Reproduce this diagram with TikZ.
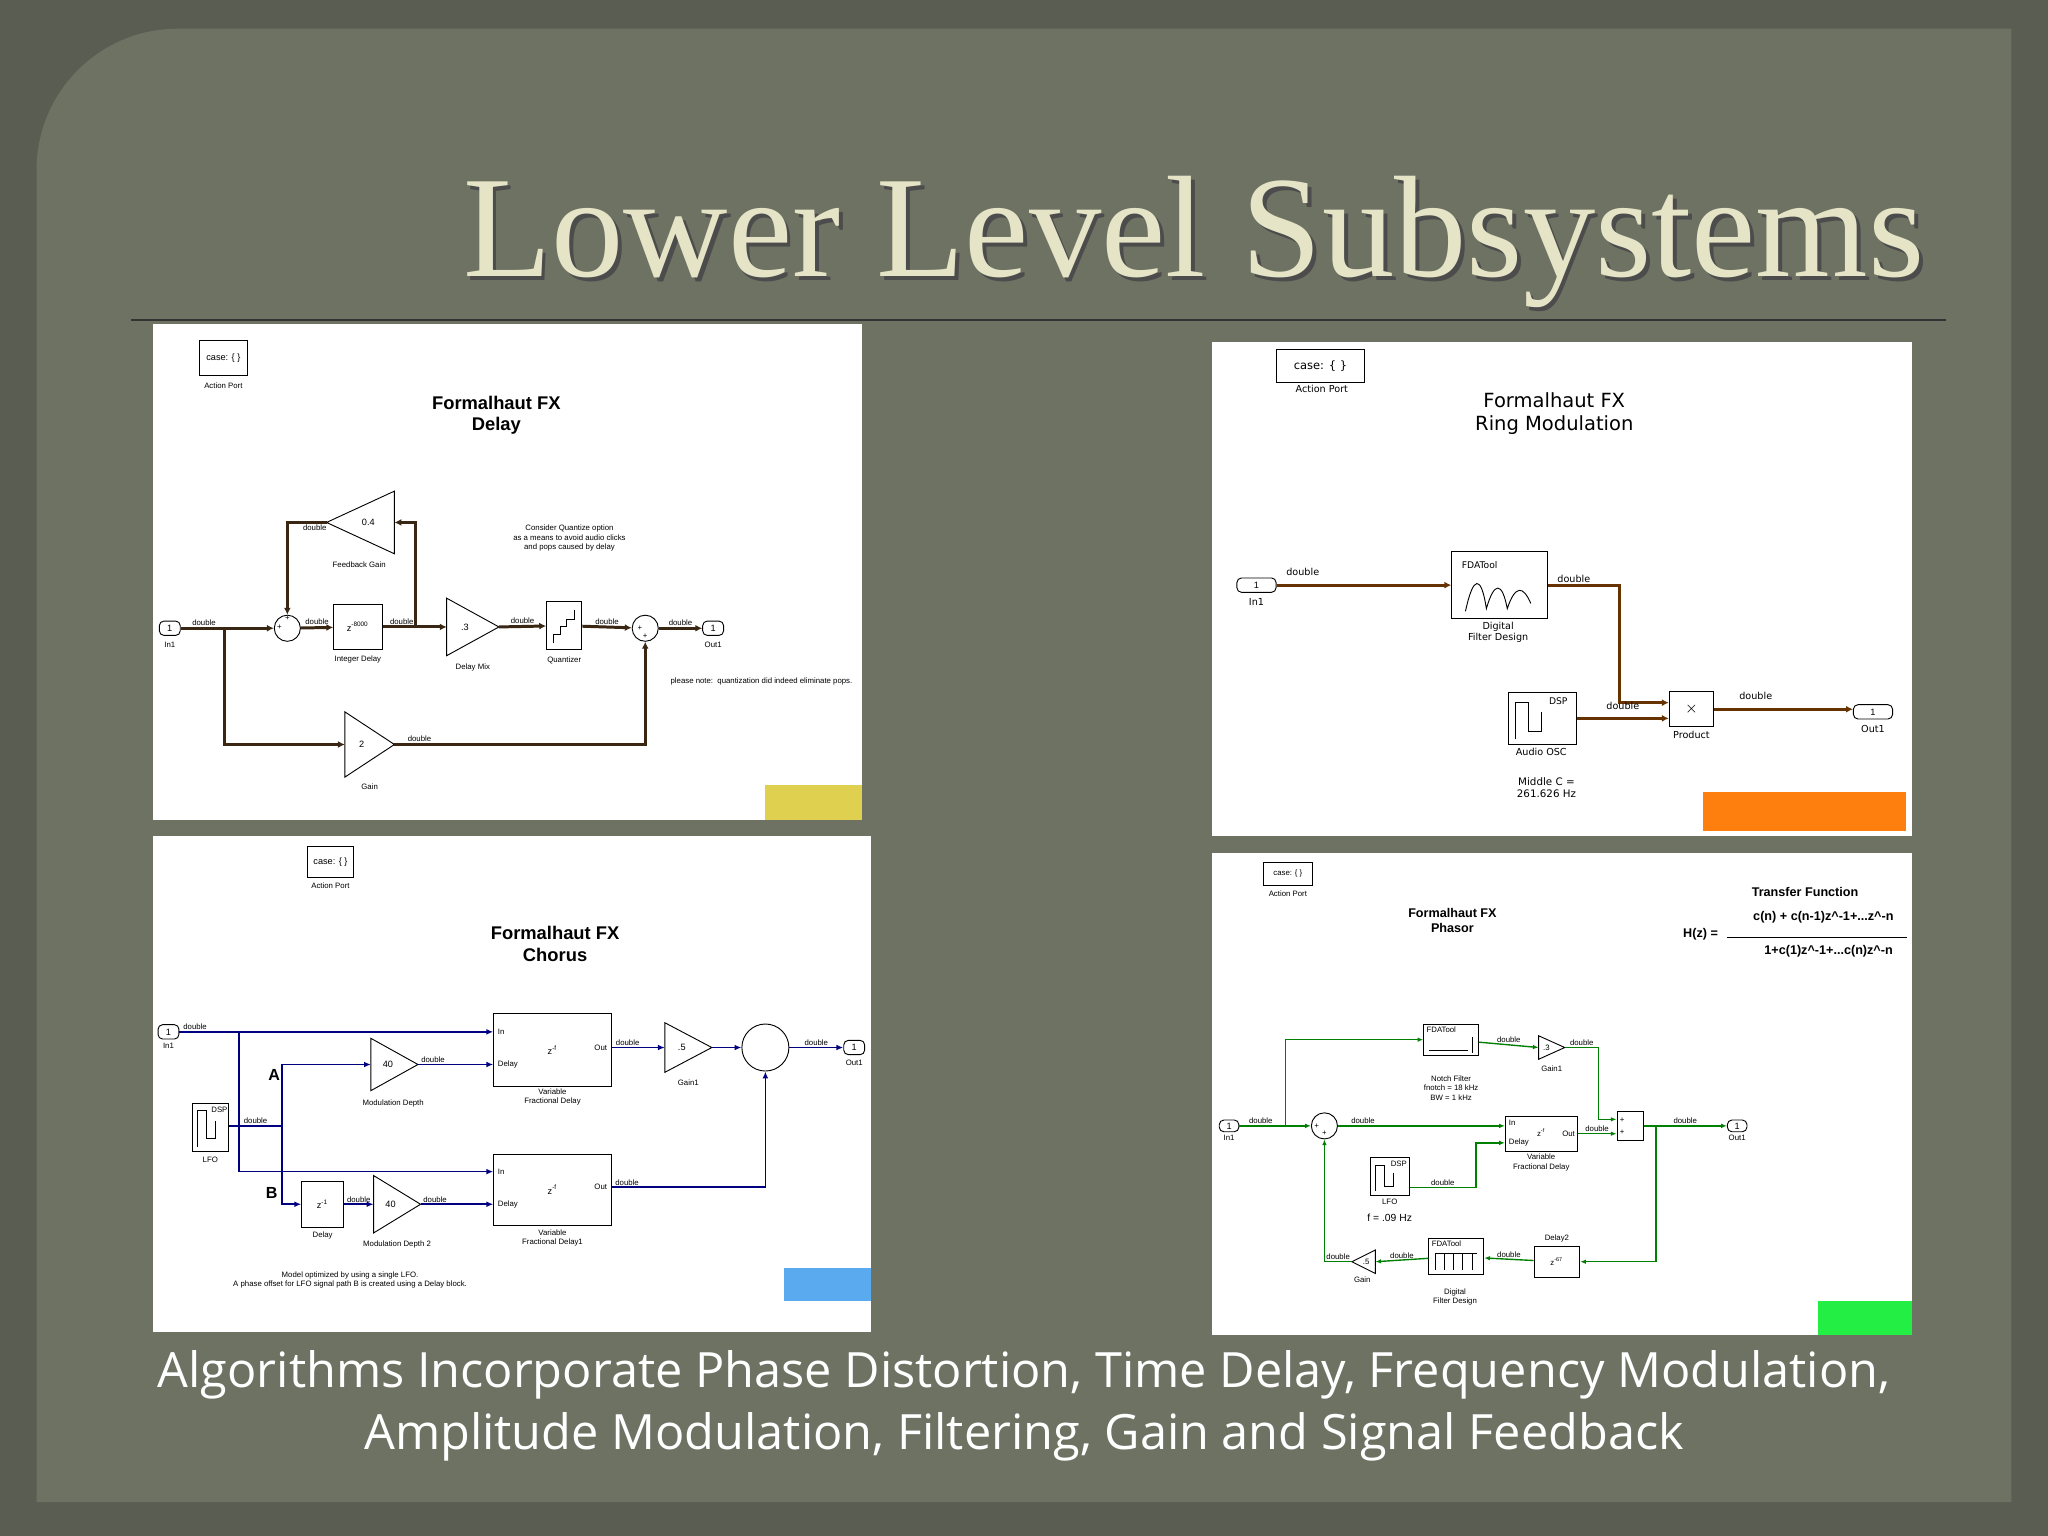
\documentclass[tikz,border=0pt]{standalone}
\usepackage{fontspec}
\setmainfont{Liberation Sans}
\newfontfamily\titlefont{Liberation Serif}
\newfontfamily\bodyfont{Open Sans}
\newfontfamily\vfont{DejaVu Sans}
\usetikzlibrary{arrows.meta}
\definecolor{pageb}{HTML}{5A5E52}
\definecolor{panelb}{HTML}{6E7263}
\definecolor{titlec}{HTML}{E6E4C6}
\definecolor{cyel}{HTML}{E0D050}
\definecolor{cora}{HTML}{FF7F0E}
\definecolor{cblu}{HTML}{5AAAF0}
\definecolor{cgrn}{HTML}{22EE44}
\newcommand{\zx}[1]{z\textsuperscript{#1}}
\tikzset{
 tiny/.style={font=\fontsize{4}{4.6}\selectfont,inner sep=0.5pt,align=center},
 small/.style={font=\fontsize{3.4}{4}\selectfont,inner sep=0.5pt,align=center},
 ptitle/.style={font=\bfseries\fontsize{8}{9.5}\selectfont,align=center},
 blk/.style={draw,fill=white,inner sep=0pt,line width=0.4pt},
 port/.style={draw,fill=white,rounded corners=2pt,minimum width=0.32cm,minimum height=0.22cm,inner sep=0pt,font=\fontsize{4}{4}\selectfont},
 sa/.style={line width=1.3pt,draw=black!70!brown,-{Latex[length=3pt,width=3pt]}},
 sb/.style={line width=1.3pt,draw=black!60!orange,-{Latex[length=3pt,width=3pt]}},
 sc/.style={line width=0.7pt,draw=blue!50!black,-{Latex[length=3pt,width=2.5pt]}},
 sd/.style={line width=0.6pt,draw=green!50!black,-{Latex[length=2.5pt,width=2pt]}},
}
\begin{document}
\begin{tikzpicture}[x=0.02cm,y=-0.02cm]
\useasboundingbox (0,0) rectangle (1568,1176);
\fill[pageb] (0,0) rectangle (1568,1176);
\fill[panelb] (28,1150) -- (28,130) arc[start angle=180,end angle=270,radius=108] -- (1540,22) -- (1540,1150) -- cycle;
% title
\node[font=\titlefont\fontsize{63}{68}\selectfont,text=black!70,anchor=center] at (917,188) {Lower Level Subsystems};
\node[font=\titlefont\fontsize{63}{68}\selectfont,text=titlec,anchor=center] (title) at (914,185) {Lower Level Subsystems};
\draw[black!80,line width=0.8pt] (100,245) -- (1490,245);
% panels
\fill[white] (117,248) rectangle (660,628);
\fill[cyel] (586,601) rectangle (660,628);
\fill[white] (928,262) rectangle (1464,640);
\fill[cora] (1304,606) rectangle (1459,636);
\fill[white] (117,640) rectangle (667,1020);
\fill[cblu] (600,971) rectangle (667,996);
\fill[white] (928,653) rectangle (1464,1022);
\fill[cgrn] (1392,996) rectangle (1464,1022);

%%%%% Panel 1 Delay
\node[blk,minimum width=0.74cm,minimum height=0.54cm,tiny] (c1) at (171,274) {case: \{ \}};
\node[small] at (171,295) {Action Port};
\node[ptitle] at (380,318) {Formalhaut FX\\Delay};
\node[port] (in1) at (130,481) {1};
\node[small] at (130,494) {In1};
\node[blk,circle,minimum size=0.4cm] (s1) at (220,481) {};
\node[small] at (214,480) {+};\node[small] at (220,473) {+};
\node[blk,minimum width=0.74cm,minimum height=0.7cm,tiny] (idel) at (274,480) {\zx{-8000}};
\node[small] at (274,505) {Integer Delay};
\draw[fill=white] (342,458) -- (382,480) -- (342,502) -- cycle;
\coordinate (dmi) at (342,480); \coordinate (dmo) at (382,480);
\node[tiny] at (356,480) {.3};
\node[small] at (362,511) {Delay Mix};
\node[blk,minimum width=0.54cm,minimum height=0.74cm] (q) at (432,479) {};
\draw (424,492) -- (424,486) -- (429,486) -- (429,480) -- (434,480) -- (434,474) -- (440,474) -- (440,467);
\node[small] at (432,506) {Quantizer};
\node[blk,circle,minimum size=0.4cm] (s2) at (494,481) {};
\node[small] at (490,481) {+};\node[small] at (494,487) {+};
\node[port] (out1) at (546,481) {1};
\node[small] at (546,494) {Out1};
\draw[fill=white] (250,400) -- (302,376) -- (302,424) -- cycle;
\coordinate (fbi) at (302,400); \coordinate (fbo) at (250,400);
\node[tiny] at (282,400) {0.4};
\node[small] at (275,432) {Feedback Gain};
\draw[fill=white] (264,545) -- (302,570) -- (264,595) -- cycle;
\coordinate (gi) at (264,570); \coordinate (go) at (302,570);
\node[tiny] at (277,570) {2};
\node[small] at (283,602) {Gain};
\node[small] at (436,412) {Consider Quantize option\\as a means to avoid audio clicks\\and pops caused by delay};
\node[small] at (583,522) {please note:\ \ quantization did indeed eliminate pops.};
\coordinate (b1) at (172,481); \coordinate (b2) at (318,481);
\draw[sa] (in1) -- (s1) node[pos=0.25,above,small]{double};
\draw[sa] (b1) |- (gi);
\draw[sa] (go) -| (s2) node[pos=0.05,above,small]{double};
\draw[sa] (s1) -- (idel) node[midway,above,small]{double};
\draw[sa] (idel) -- (dmi) node[pos=0.3,above,small]{double};
\draw[sa] (b2) |- (fbi);
\draw[sa] (fbo) -| (s1) node[pos=0.15,below,small]{double};
\draw[sa] (dmo) -- (q) node[midway,above,small]{double};
\draw[sa] (q) -- (s2) node[midway,above,small]{double};
\draw[sa] (s2) -- (out1) node[midway,above,small]{double};

%%%%% Panel 2 Ring modulation
\node[blk,minimum width=1.34cm,minimum height=0.5cm,font=\vfont\fontsize{5}{5}\selectfont] (c2) at (1011,280) {case: \{ \}};
\node[font=\vfont\fontsize{4.2}{5}\selectfont] at (1012,298) {Action Port};
\node[font=\vfont\fontsize{8.5}{10}\selectfont,align=center] at (1190,317) {Formalhaut FX\\Ring Modulation};
\node[port,minimum width=0.6cm] (rin) at (962,448) {1};
\node[font=\vfont\fontsize{4.2}{5}\selectfont] at (962,461) {In1};
\node[blk,minimum width=1.46cm,minimum height=1.02cm] (fda) at (1148,448) {};
\node[font=\vfont\fontsize{4}{4}\selectfont,anchor=north west] at (1113,424) {FDATool};
\draw (1122,468) .. controls (1128,440) and (1134,440) .. (1138,466) .. controls (1144,445) and (1150,445) .. (1154,466) .. controls (1160,448) and (1166,448) .. (1172,462);
\node[font=\vfont\fontsize{4.2}{5}\selectfont,align=center] at (1147,484) {Digital\\Filter Design};
\node[blk,minimum width=1.04cm,minimum height=0.8cm] (osc) at (1181,550) {};
\draw (1160,566) -- (1160,538) -- (1170,538) -- (1170,560) -- (1180,560) -- (1180,545);
\node[font=\vfont\fontsize{4}{4}\selectfont] at (1193,537) {DSP};
\node[font=\vfont\fontsize{4.2}{5}\selectfont] at (1180,576) {Audio OSC};
\node[blk,minimum width=0.68cm,minimum height=0.54cm,font=\fontsize{6}{6}\selectfont] (prod) at (1295,543) {$\times$};
\node[font=\vfont\fontsize{4.2}{5}\selectfont] at (1295,563) {Product};
\node[port,minimum width=0.6cm] (rout) at (1434,545) {1};
\node[font=\vfont\fontsize{4.2}{5}\selectfont] at (1434,558) {Out1};
\node[font=\vfont\fontsize{4.5}{5.5}\selectfont,align=center] at (1184,603) {Middle C =\\261.626 Hz};
\draw[sb] (rin) -- (fda) node[pos=0.15,above,font=\vfont\fontsize{4.2}{5}\selectfont]{double};
\draw[sb] (fda.east) -- (1240,448) |- (prod.west|-1,538);
\node[font=\vfont\fontsize{4.2}{5}\selectfont] at (1205,443) {double};
\draw[sb] (osc.east) -- (prod.west|-osc.east) node[midway,above,font=\vfont\fontsize{4.2}{5}\selectfont]{double};
\draw[sb] (prod.east) -- (rout.west|-prod.east) node[pos=0.3,above,font=\vfont\fontsize{4.2}{5}\selectfont]{double};

%%%%% Panel 3 Chorus
\node[blk,minimum width=0.7cm,minimum height=0.48cm,tiny] (c3) at (253,660) {case: \{ \}};
\node[small] at (253,678) {Action Port};
\node[ptitle] at (425,723) {Formalhaut FX\\Chorus};
\node[port] (cin) at (129,790) {1};
\node[small] at (129,801) {In1};
\node[blk,minimum width=0.56cm,minimum height=0.74cm] (lfo) at (161,863) {};
\draw (151,878) -- (151,850) -- (158,850) -- (158,872) -- (165,872) -- (165,858);
\node[small] at (168,850) {DSP};
\node[small] at (161,888) {LFO};
\node[blk,minimum width=1.8cm,minimum height=1.12cm] (vfd) at (423,804) {};
\node[small,anchor=west] at (380,790) {In};\node[small,anchor=west] at (380,815) {Delay};\node[small,anchor=east] at (466,802) {Out};
\node[tiny] at (423,804) {\zx{-f}};
\node[small] at (423,840) {Variable\\Fractional Delay};
\node[blk,minimum width=1.8cm,minimum height=1.08cm] (vfd1) at (423,911) {};
\node[small,anchor=west] at (380,897) {In};\node[small,anchor=west] at (380,922) {Delay};\node[small,anchor=east] at (466,909) {Out};
\node[tiny] at (423,911) {\zx{-f}};
\node[small] at (423,948) {Variable\\Fractional Delay1};
\draw[fill=white] (284,795) -- (320,815) -- (284,835) -- cycle;
\coordinate (mdi) at (284,815); \coordinate (mdo) at (320,815);
\node[tiny] at (297,815) {40};
\node[small] at (301,845) {Modulation Depth};
\draw[fill=white] (286,900) -- (322,922) -- (286,944) -- cycle;
\coordinate (md2i) at (286,922); \coordinate (md2o) at (322,922);
\node[tiny] at (299,922) {40};
\node[small] at (304,953) {Modulation Depth 2};
\draw[fill=white] (509,783) -- (545,802) -- (509,821) -- cycle;
\coordinate (g1i) at (509,802); \coordinate (g1o) at (545,802);
\node[tiny] at (522,802) {.5};
\node[small] at (527,829) {Gain1};
\node[blk,minimum width=0.64cm,minimum height=0.7cm,tiny] (cdel) at (247,922) {\zx{-1}};
\node[small] at (247,946) {Delay};
\node[blk,circle,minimum size=0.72cm] (csum) at (586,802) {};
\node[port] (cout) at (654,802) {1};
\node[small] at (654,814) {Out1};
\node[font=\bfseries\fontsize{7}{7}\selectfont] at (210,823) {A};
\node[font=\bfseries\fontsize{7}{7}\selectfont] at (208,913) {B};
\node[small] at (268,980) {Model optimized by using a single LFO.\\A phase offset for LFO signal path B is created using a Delay block.};
\coordinate (cb1) at (183,790); \coordinate (cb2) at (216,862);
\draw[sc] (cin) -- (vfd.west|-cin) node[pos=0.05,above,small]{double};
\draw[sc] (cb1) |- (vfd1.west|-1,897);
\draw[sc] (lfo.east|-cb2) -- (cb2) node[midway,above,small]{double} |- (mdi);
\draw[sc] (cb2) |- (cdel);
\draw[sc] (mdo) -- (vfd.west|-mdo) node[pos=0.2,above,small]{double};
\draw[sc] (cdel) -- (md2i) node[midway,above,small]{double};
\draw[sc] (md2o) -- (vfd1.west|-md2o) node[pos=0.2,above,small]{double};
\draw[sc] (vfd.east|-1,802) -- (g1i) node[pos=0.3,above,small]{double};
\draw[sc] (g1o) -- (csum);
\draw[sc] (csum) -- (cout) node[midway,above,small]{double};
\draw[sc] (vfd1.east|-1,909) -| (csum) node[pos=0.05,above,small]{double};

%%%%% Panel 4 Phasor
\node[blk,minimum width=0.74cm,minimum height=0.36cm,small] (c4) at (986,669) {case: \{ \}};
\node[small] at (986,684) {Action Port};
\node[font=\bfseries\fontsize{5.5}{6.5}\selectfont,align=center] at (1112,705) {Formalhaut FX\\Phasor};
\node[font=\bfseries\fontsize{5.5}{6}\selectfont] at (1382,683) {Transfer Function};
\node[font=\bfseries\fontsize{5.5}{6}\selectfont] at (1396,702) {c(n) + c(n-1)z\textasciicircum-1+...z\textasciicircum-n};
\node[font=\bfseries\fontsize{5.5}{6}\selectfont] at (1302,715) {H(z) =};
\draw[line width=0.5pt] (1322,718) -- (1460,718);
\node[font=\bfseries\fontsize{5.5}{6}\selectfont] at (1400,728) {1+c(1)z\textasciicircum-1+...c(n)z\textasciicircum-n};
\node[port,minimum width=0.3cm,minimum height=0.18cm] (pin) at (941,862) {1};
\node[small] at (941,871) {In1};
\node[blk,circle,minimum size=0.4cm] (ps) at (1014,862) {};
\node[small] at (1008,862) {+};\node[small] at (1014,868) {+};
\node[blk,minimum width=1.1cm,minimum height=0.54cm] (pvfd) at (1180,868) {};
\node[small,anchor=west] at (1154,860) {In};\node[small,anchor=west] at (1154,875) {Delay};\node[small,anchor=east] at (1207,868) {Out};
\node[small] at (1180,867) {\zx{-f}};
\node[small] at (1180,890) {Variable\\Fractional Delay};
\node[blk,minimum width=0.4cm,minimum height=0.44cm] (ps2) at (1248,862) {};
\node[small] at (1242,858) {+};\node[small] at (1242,867) {+};
\node[port,minimum width=0.3cm,minimum height=0.18cm] (pout) at (1330,862) {1};
\node[small] at (1330,871) {Out1};
\node[blk,minimum width=0.84cm,minimum height=0.48cm] (notch) at (1111,796) {};
\node[small,anchor=north west] at (1091,785) {FDATool};
\draw (1094,804) -- (1124,804); \draw (1127,794) -- (1127,806);
\node[small] at (1111,833) {Notch Filter\\fnotch = 18 kHz\\BW = 1 kHz};
\draw[fill=white] (1178,793) -- (1198,802) -- (1178,811) -- cycle;
\coordinate (pg1i) at (1178,802); \coordinate (pg1o) at (1198,802);
\node[small] at (1184,802) {.3};
\node[small] at (1188,818) {Gain1};
\node[blk,minimum width=0.6cm,minimum height=0.58cm] (plfo) at (1064,901) {};
\draw (1053,912) -- (1053,892) -- (1060,892) -- (1060,908) -- (1067,908) -- (1067,898);
\node[small] at (1071,891) {DSP};
\node[small] at (1064,920) {LFO};
\node[font=\fontsize{4.5}{5}\selectfont] at (1064,932) {f = .09 Hz};
\node[blk,minimum width=0.7cm,minimum height=0.48cm,small] (pdel) at (1192,966) {\zx{-67}};
\node[small] at (1192,948) {Delay2};
\node[blk,minimum width=0.84cm,minimum height=0.54cm] (pfda) at (1115,962) {};
\node[small,anchor=north west] at (1095,949) {FDATool};
\draw (1099,972) -- (1099,960) (1106,972) -- (1106,960) (1113,972) -- (1113,960) (1120,972) -- (1120,960) (1127,972) -- (1127,960) (1099,960) -- (1131,960);
\node[small] at (1114,993) {Digital\\Filter Design};
\draw[fill=white] (1035,966) -- (1053,957) -- (1053,975) -- cycle;
\coordinate (pgi) at (1053,966); \coordinate (pgo) at (1035,966);
\node[small] at (1046,966) {.5};
\node[small] at (1043,980) {Gain};
\coordinate (pb1) at (984,862); \coordinate (pb2) at (1268,862);
\draw[sd] (pin) -- (ps) node[pos=0.3,above,small]{double};
\draw[sd] (pb1) |- (notch);
\draw[sd] (notch) -- (pg1i) node[midway,above,small]{double};
\draw[sd] (pg1o) -- (1224,802) node[midway,above,small]{double} |- (ps2.west|-1,857);
\draw[sd] (ps) -- (pvfd.west|-ps) node[pos=0.15,above,small]{double};
\draw[sd] (plfo.east|-1,909) -- (1130,909) node[midway,above,small]{double} |- (pvfd.west|-1,875);
\draw[sd] (pvfd.east) -- (ps2.west|-pvfd.east) node[midway,above,small]{double};
\draw[sd] (ps2) -- (pout) node[midway,above,small]{double};
\draw[sd] (pb2) |- (pdel);
\draw[sd] (pdel) -- (pfda) node[midway,above,small]{double};
\draw[sd] (pfda) -- (pgi) node[midway,above,small]{double};
\draw[sd] (pgo) -- (1014,966) node[midway,above,small]{double} -- (ps);

% bottom text
\node[font=\bodyfont\fontsize{21.2}{27}\selectfont,text=white,align=center] (caption) at (784,1076) {Algorithms Incorporate Phase Distortion, Time Delay, Frequency Modulation,\\Amplitude Modulation, Filtering, Gain and Signal Feedback};
\end{tikzpicture}
\end{document}
